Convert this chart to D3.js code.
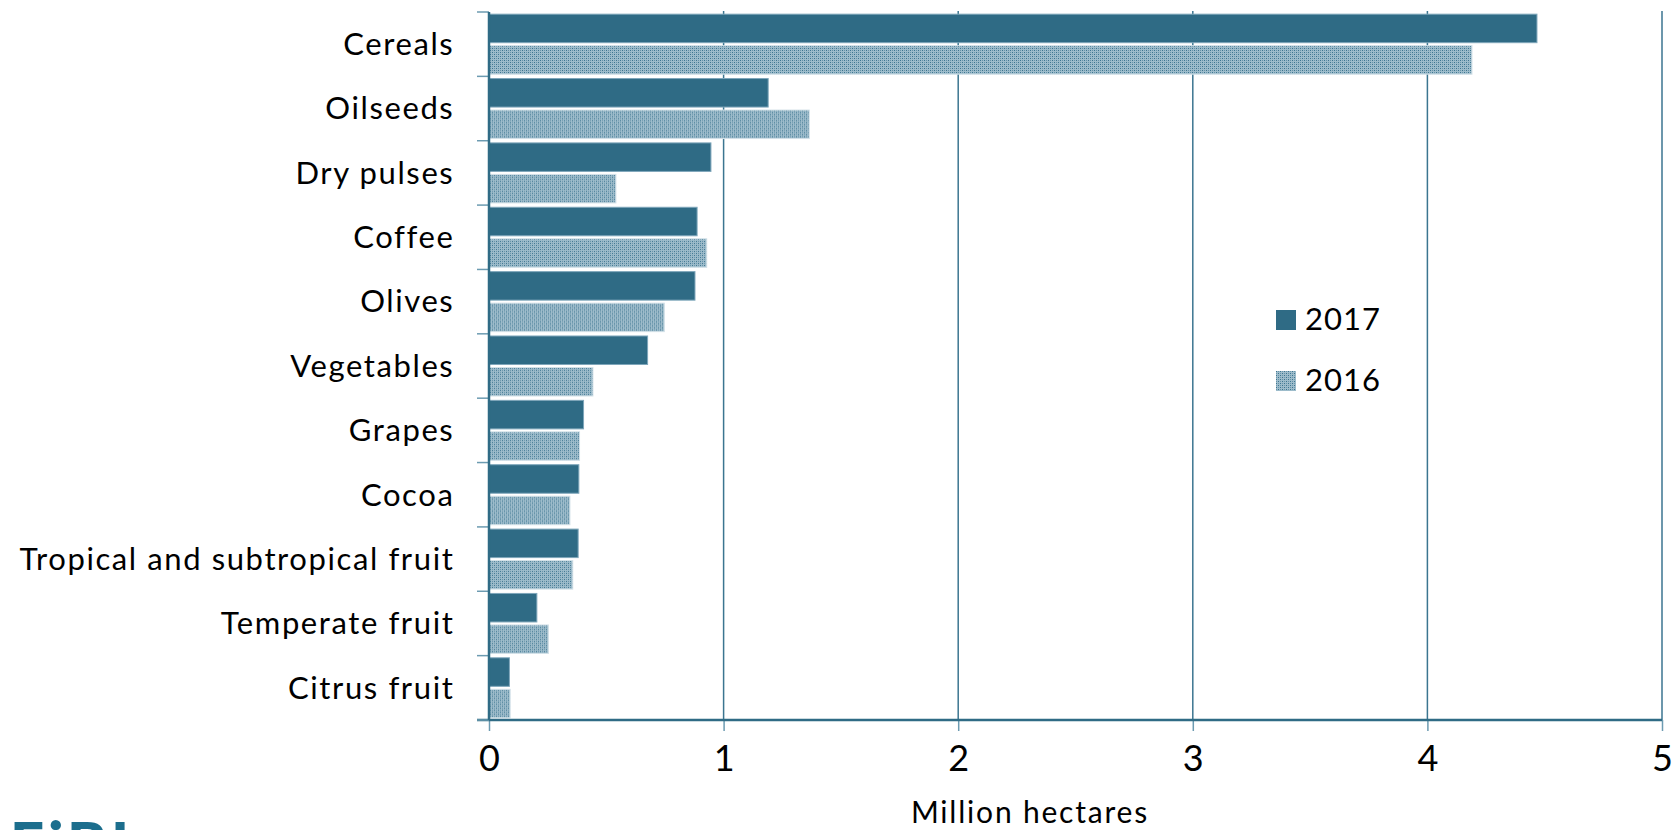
<!DOCTYPE html>
<html>
<head>
<meta charset="utf-8">
<script src="https://cdn.jsdelivr.net/npm/d3@7"></script>
<style>
  html, body { margin: 0; padding: 0; background: #fff; }
  svg { display: block; }
  text { font-family: Lato, "Open Sans", sans-serif; fill: #000; }
</style>
</head>
<body>
<svg id="chart" width="1674" height="830"></svg>
<script>
// Organic area by crop group, million hectares
const categories = [
  "Cereals", "Oilseeds", "Dry pulses", "Coffee", "Olives", "Vegetables",
  "Grapes", "Cocoa", "Tropical and subtropical fruit", "Temperate fruit", "Citrus fruit"
];
const seriesNames = ["2017", "2016"];
const values2017 = [4.467, 1.19, 0.946, 0.887, 0.878, 0.676, 0.403, 0.383, 0.380, 0.204, 0.087];
const values2016 = [4.19, 1.365, 0.541, 0.928, 0.747, 0.443, 0.386, 0.345, 0.357, 0.253, 0.090];
const xTicks = [0, 1, 2, 3, 4, 5];
const axisTitle = "Million hectares";

const svg = d3.select("#chart");
const margin = { left: 489, right: 12, top: 12, bottom: 110 };
const W = 1674, H = 830;

const teal = "#2f6b85";
const gridColor = "#3b7590";
const tickColor = "#6c9bb1";

const x = d3.scaleLinear().domain([0, 5]).range([margin.left, W - margin.right]);
const y = d3.scaleBand().domain(categories).range([margin.top, H - margin.bottom]).paddingInner(0).paddingOuter(0);
const ySub = d3.scaleBand().domain(seriesNames).range([0, y.bandwidth()]).paddingInner(0.095).paddingOuter(0.069);

// Fine dotted fill used for the 2016 bars
const defs = svg.append("defs");
const pat = defs.append("pattern")
  .attr("id", "dots2016")
  .attr("patternUnits", "userSpaceOnUse")
  .attr("width", 4).attr("height", 4);
pat.append("rect").attr("width", 4).attr("height", 4).attr("fill", "#9dbccb");
[[0, 0, "#3c7590"], [2, 2, "#3c7590"], [2, 0, "#6892a8"], [0, 2, "#6892a8"]].forEach(([px, py, c]) => {
  pat.append("rect").attr("x", px).attr("y", py).attr("width", 1).attr("height", 1).attr("fill", c);
});

// Vertical gridlines
svg.append("g").selectAll("line")
  .data(xTicks.filter(d => d > 0))
  .join("line")
  .attr("x1", d => x(d)).attr("x2", d => x(d))
  .attr("y1", margin.top - 1).attr("y2", H - margin.bottom)
  .attr("stroke", gridColor).attr("stroke-width", 1.5);

// Bars
const rows = categories.map((c, i) => ({ cat: c, vals: [
  { key: "2017", v: values2017[i] },
  { key: "2016", v: values2016[i] }
]}));

const g = svg.append("g");
const grp = g.selectAll("g.cat").data(rows).join("g")
  .attr("class", "cat")
  .attr("transform", d => `translate(0,${y(d.cat)})`);

grp.selectAll("rect").data(d => d.vals).join("rect")
  .attr("x", x(0))
  .attr("y", d => ySub(d.key))
  .attr("width", d => x(d.v) - x(0))
  .attr("height", ySub.bandwidth())
  .attr("fill", d => d.key === "2017" ? teal : "url(#dots2016)")
  .attr("stroke", d => d.key === "2017" ? "#7ea6ba" : "#d3e1e8")
  .attr("stroke-width", 1);

// Bottom axis
const xAxis = d3.axisBottom(x).tickValues(xTicks).tickSize(11).tickPadding(14)
  .tickFormat(d3.format("d"));
const gx = svg.append("g")
  .attr("transform", `translate(0,${H - margin.bottom})`)
  .call(xAxis);
gx.select(".domain").remove();
gx.selectAll(".tick line").attr("stroke", tickColor).attr("stroke-width", 1.5);
gx.selectAll(".tick text").attr("font-size", 36).attr("font-family", "Lato, sans-serif").attr("fill", "#000");
gx.append("line")
  .attr("x1", x(0) - 12).attr("x2", x(5))
  .attr("y1", 0).attr("y2", 0)
  .attr("stroke", teal).attr("stroke-width", 2.5);

// Left axis: category labels and band boundary ticks
const gy = svg.append("g");
gy.selectAll("line.bt")
  .data(d3.range(categories.length + 1))
  .join("line")
  .attr("class", "bt")
  .attr("x1", x(0) - 12).attr("x2", x(0))
  .attr("y1", i => margin.top + i * y.step()).attr("y2", i => margin.top + i * y.step())
  .attr("stroke", tickColor).attr("stroke-width", 1.5);
gy.append("line")
  .attr("x1", x(0)).attr("x2", x(0))
  .attr("y1", margin.top).attr("y2", H - margin.bottom)
  .attr("stroke", teal).attr("stroke-width", 2.5);
gy.selectAll("text")
  .data(categories)
  .join("text")
  .attr("x", x(0) - 34.6)
  .attr("y", d => y(d) + y.bandwidth() / 2)
  .attr("dy", "0.35em")
  .attr("text-anchor", "end")
  .attr("font-size", 31)
  .attr("letter-spacing", 1.6)
  .text(d => d);

// Axis title
svg.append("text")
  .attr("x", 1030).attr("y", 823)
  .attr("text-anchor", "middle")
  .attr("font-size", 30)
  .attr("letter-spacing", 1.8)
  .text(axisTitle);

// Legend
const legend = svg.append("g").attr("transform", "translate(1276,310)");
seriesNames.forEach((s, i) => {
  const row = legend.append("g").attr("transform", `translate(0,${i * 61})`);
  row.append("rect").attr("width", 20).attr("height", 20)
    .attr("fill", s === "2017" ? teal : "url(#dots2016)");
  row.append("text").attr("x", 29).attr("y", 20).attr("font-size", 31)
    .attr("letter-spacing", 1).text(s);
});

// Publisher mark, partly below the frame
svg.append("text")
  .attr("x", 10).attr("y", 866)
  .attr("font-size", 60)
  .attr("font-weight", 900)
  .attr("letter-spacing", 4)
  .style("fill", "#1c6e8d")
  .text("FiBL");
</script>
</body>
</html>
